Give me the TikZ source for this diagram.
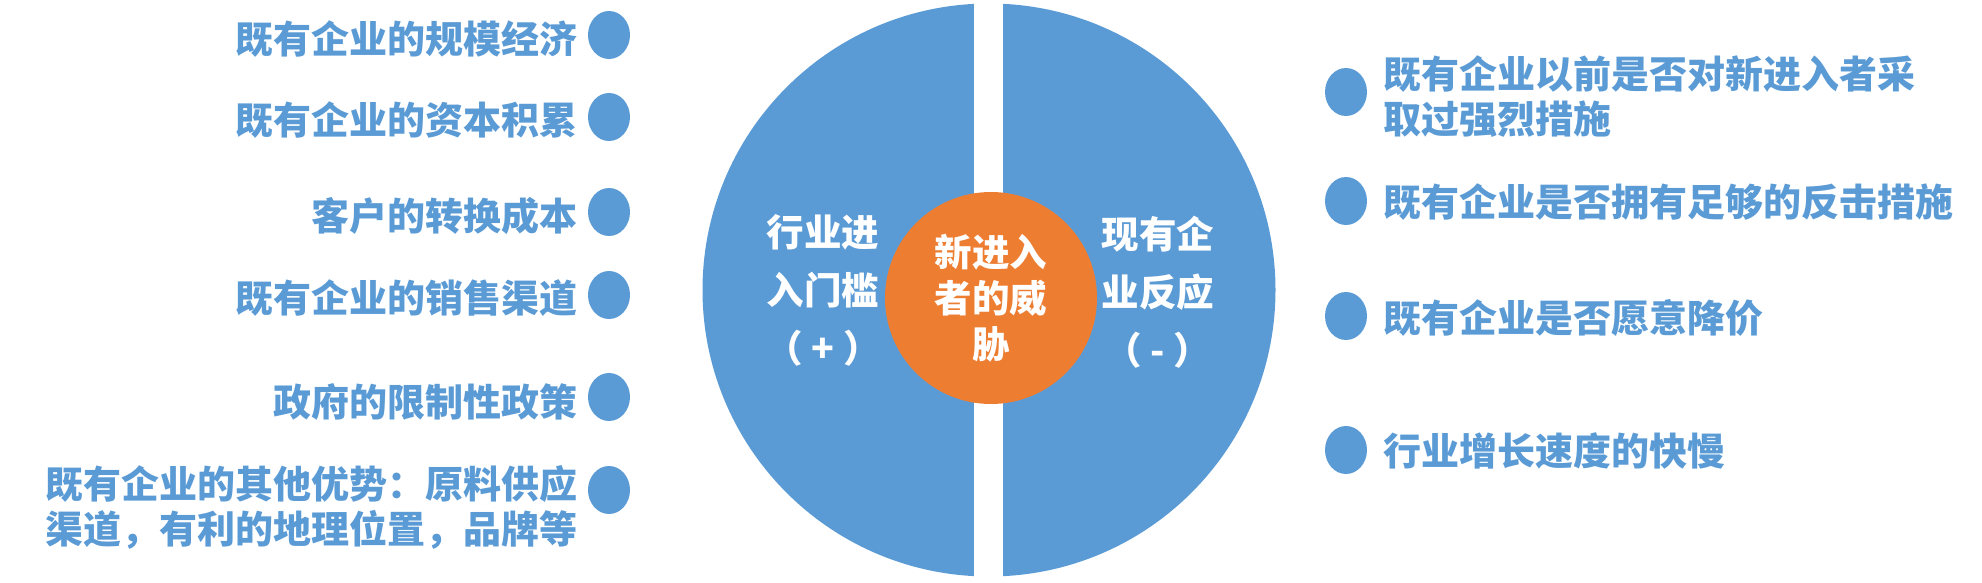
\documentclass[tikz,border=0pt]{standalone}
\usepackage{fontspec}
\setmainfont{Noto Sans CJK SC}
\usetikzlibrary{shapes.geometric}
\definecolor{mBlue}{HTML}{5B9BD5}
\definecolor{mOrange}{HTML}{ED7D31}

\begin{document}
\begin{tikzpicture}[x=1pt, y=-1pt,
      dot/.style={ellipse, fill=mBlue, minimum width=42pt, minimum height=48pt, inner sep=0pt},
      lft/.style={anchor=east, align=right, inner sep=0pt, text=mBlue, font=\bfseries\fontsize{38}{45}\selectfont},
      rgt/.style={anchor=west, align=left, inner sep=0pt, text=mBlue, font=\bfseries\fontsize{38}{45}\selectfont},
      mid/.style={align=center, inner sep=0pt, text=white, font=\bfseries\fontsize{37.5}{58}\selectfont}]
    \useasboundingbox (0,0) rectangle (1982,583);
    \node[circle, fill=mBlue, minimum size=573pt, inner sep=0pt] (disc) at (989,290) {};
    \fill[white] (974,0) rectangle (1003,583);
    \node[circle, fill=mOrange, minimum size=212pt, inner sep=0pt, align=center, text=white,
          font=\bfseries\fontsize{37.5}{46}\selectfont] (threat) at (991,298) {新进入\\者的威\\胁};
    \node[mid] (barrier) at (823,290) {行业进\\入门槛\\（ + ）};
    \node[mid] (react) at (1158,292) {现有企\\业反应\\（ - ）};

    \node[dot] (l1) at (609,35) {};
    \node[lft] (t1) at (578,39) {既有企业的规模经济};
    \node[dot] (l2) at (609,117) {};
    \node[lft] (t2) at (578,120) {既有企业的资本积累};
    \node[dot] (l3) at (609,212) {};
    \node[lft] (t3) at (578,216) {客户的转换成本};
    \node[dot] (l4) at (609,295) {};
    \node[lft] (t4) at (578,298) {既有企业的销售渠道};
    \node[dot] (l5) at (609,397) {};
    \node[lft] (t5) at (578,402) {政府的限制性政策};
    \node[dot] (l6) at (609,490) {};
    \node[lft] (t6) at (578,507) {既有企业的其他优势：原料供应\\渠道，有利的地理位置，品牌等};

    \node[dot] (r1) at (1346,92) {};
    \node[rgt] (s1) at (1383,97) {既有企业以前是否对新进入者采\\取过强烈措施};
    \node[dot] (r2) at (1346,201) {};
    \node[rgt] (s2) at (1383,202) {既有企业是否拥有足够的反击措施};
    \node[dot] (r3) at (1346,316) {};
    \node[rgt] (s3) at (1383,318) {既有企业是否愿意降价};
    \node[dot] (r4) at (1346,450) {};
    \node[rgt] (s4) at (1383,451) {行业增长速度的快慢};
  \end{tikzpicture}
\end{document}
